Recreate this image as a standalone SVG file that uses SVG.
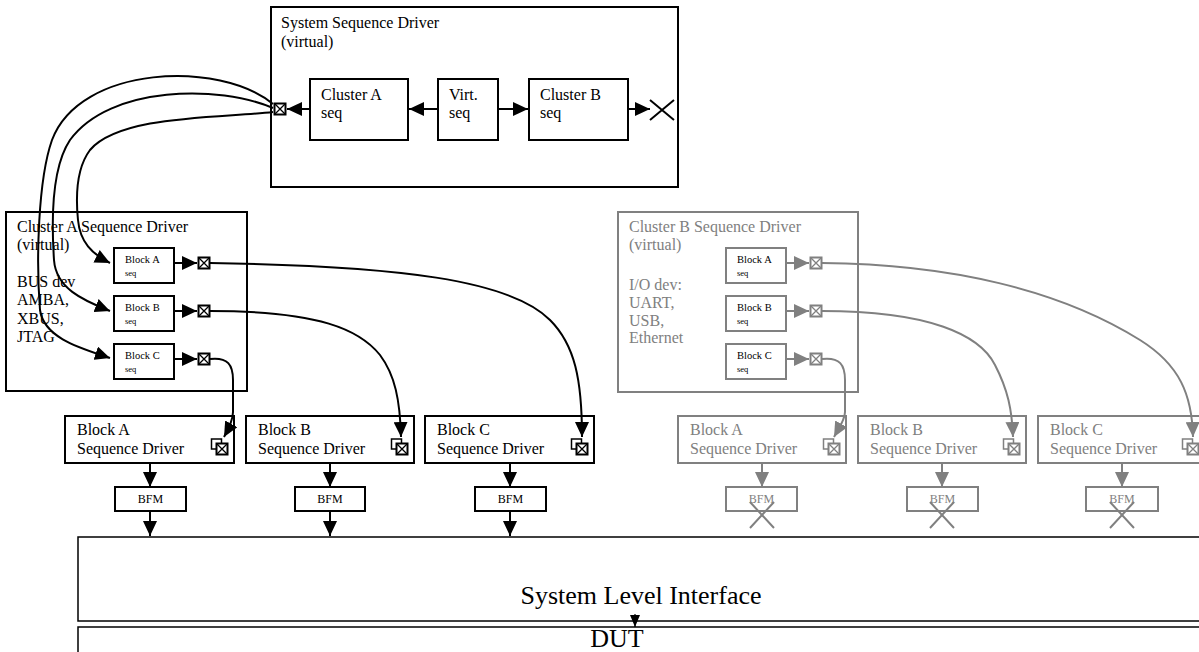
<svg xmlns="http://www.w3.org/2000/svg" width="1199" height="652" viewBox="0 0 1199 652">
  <style>
    .box { fill: none; stroke: #000; stroke-width: 2; }
    .gbox { fill: none; stroke: #808080; stroke-width: 2; }
    .wire { fill: none; stroke: #000; stroke-width: 2; }
    .gwire { fill: none; stroke: #808080; stroke-width: 2; }
    text { font-family: "Liberation Serif", "Times New Roman", serif; fill: #000; }
    .g text { fill: #808080; }
    .g text.dark { fill: #000; }
    .t16 { font-size: 16px; }
    .t12 { font-size: 12px; }
    .blk { font-size: 10.5px; }
    .seq { font-size: 8.5px; }
    .big { font-size: 26px; }
    .port { fill: #fff; stroke: #000; }
    .gport { fill: #fff; stroke: #808080; }
  </style>
  <defs>
    <marker id="ah" viewBox="0 0 15 14" refX="15" refY="7" markerWidth="15" markerHeight="14" markerUnits="userSpaceOnUse" orient="auto">
      <path d="M0,0 L15,7 L0,14 z" fill="#000"/>
    </marker>
    <marker id="ahg" viewBox="0 0 15 14" refX="15" refY="7" markerWidth="15" markerHeight="14" markerUnits="userSpaceOnUse" orient="auto">
      <path d="M0,0 L15,7 L0,14 z" fill="#808080"/>
    </marker>
    <marker id="ahs" viewBox="0 0 12 10" refX="12" refY="5" markerWidth="12" markerHeight="10" markerUnits="userSpaceOnUse" orient="auto">
      <path d="M0,0 L12,5 L0,10 z" fill="#000"/>
    </marker>
    <!-- boxed-X port -->
    <g id="px">
      <rect x="-5.5" y="-5.5" width="11" height="11" stroke-width="2"/>
      <path d="M-5.5,-5.5 L5.5,5.5 M5.5,-5.5 L-5.5,5.5" stroke-width="1.3" fill="none"/>
    </g>
    <!-- stacked port used on the block drivers -->
    <g id="px2">
      <rect x="-10.5" y="-10" width="10" height="10" stroke-width="1.5"/>
      <use href="#px"/>
    </g>
  </defs>

  <!-- System Sequence Driver -->
  <g id="system-driver">
    <rect class="box" x="271" y="7" width="407" height="180"/>
    <text class="t16" x="281" y="28">System Sequence Driver</text>
    <text class="t16" x="281" y="47">(virtual)</text>
    <use class="port" href="#px" x="280" y="109"/>
    <path class="wire" d="M650,100 L674,120 M650,120 L674,100"/>
  </g>
  <g id="cluster-a-seq">
    <rect class="box" x="310" y="79" width="98" height="61"/>
    <text class="t16" x="321" y="100">Cluster A</text>
    <text class="t16" x="321" y="118">seq</text>
  </g>
  <g id="virt-seq">
    <rect class="box" x="438" y="79" width="60" height="61"/>
    <text class="t16" x="449" y="100">Virt.</text>
    <text class="t16" x="449" y="118">seq</text>
  </g>
  <g id="cluster-b-seq">
    <rect class="box" x="529" y="79" width="99" height="61"/>
    <text class="t16" x="540" y="100">Cluster B</text>
    <text class="t16" x="540" y="118">seq</text>
  </g>

  <!-- Cluster A Sequence Driver -->
  <g id="cluster-a-driver">
    <rect class="box" x="6" y="212" width="241" height="179"/>
    <text class="t16" x="17" y="232">Cluster A Sequence Driver</text>
    <text class="t16" x="17" y="250">(virtual)</text>
    <text class="t16" x="17" y="287">BUS dev</text>
    <text class="t16" x="17" y="305">AMBA,</text>
    <text class="t16" x="17" y="324">XBUS,</text>
    <text class="t16" x="17" y="342">JTAG</text>
  </g>
  <g id="ca-block-a-seq">
    <rect class="box" x="114" y="248" width="60" height="35"/>
    <text class="blk" x="125" y="263">Block A</text>
    <text class="seq" x="125" y="276">seq</text>
    <use class="port" href="#px" x="204" y="263"/>
  </g>
  <g id="ca-block-b-seq">
    <rect class="box" x="114" y="296" width="60" height="35"/>
    <text class="blk" x="125" y="311">Block B</text>
    <text class="seq" x="125" y="324">seq</text>
    <use class="port" href="#px" x="204" y="311"/>
  </g>
  <g id="ca-block-c-seq">
    <rect class="box" x="114" y="344" width="60" height="35"/>
    <text class="blk" x="125" y="359">Block C</text>
    <text class="seq" x="125" y="372">seq</text>
    <use class="port" href="#px" x="204" y="359"/>
  </g>

  <!-- Cluster B Sequence Driver (inactive, grey) -->
  <g id="cluster-b-driver" class="g">
    <rect class="gbox" x="618" y="212" width="240" height="180"/>
    <text class="t16" x="629" y="232">Cluster B Sequence Driver</text>
    <text class="t16" x="629" y="250">(virtual)</text>
    <text class="t16" x="629" y="290">I/O dev:</text>
    <text class="t16" x="629" y="308">UART,</text>
    <text class="t16" x="629" y="326">USB,</text>
    <text class="t16" x="629" y="343">Ethernet</text>
  </g>
  <g id="cb-block-a-seq" class="g">
    <rect class="gbox" x="726" y="248" width="60" height="35"/>
    <text class="blk dark" x="737" y="263">Block A</text>
    <text class="seq dark" x="737" y="276">seq</text>
    <use class="gport" href="#px" x="816" y="263"/>
  </g>
  <g id="cb-block-b-seq" class="g">
    <rect class="gbox" x="726" y="296" width="60" height="35"/>
    <text class="blk dark" x="737" y="311">Block B</text>
    <text class="seq dark" x="737" y="324">seq</text>
    <use class="gport" href="#px" x="816" y="311"/>
  </g>
  <g id="cb-block-c-seq" class="g">
    <rect class="gbox" x="726" y="344" width="60" height="35"/>
    <text class="blk dark" x="737" y="359">Block C</text>
    <text class="seq dark" x="737" y="372">seq</text>
    <use class="gport" href="#px" x="816" y="359"/>
  </g>

  <!-- Block sequence drivers -->
  <g id="block-a-driver">
    <rect class="box" x="65" y="416" width="169" height="47"/>
    <text class="t16" x="77" y="435">Block A</text>
    <text class="t16" x="77" y="454">Sequence Driver</text>
    <use class="port" href="#px2" x="222" y="449"/>
  </g>
  <g id="block-b-driver">
    <rect class="box" x="246" y="416" width="168" height="47"/>
    <text class="t16" x="258" y="435">Block B</text>
    <text class="t16" x="258" y="454">Sequence Driver</text>
    <use class="port" href="#px2" x="402" y="449"/>
  </g>
  <g id="block-c-driver">
    <rect class="box" x="425" y="416" width="169" height="47"/>
    <text class="t16" x="437" y="435">Block C</text>
    <text class="t16" x="437" y="454">Sequence Driver</text>
    <use class="port" href="#px2" x="582" y="449"/>
  </g>
  <g id="gblock-a-driver" class="g">
    <rect class="gbox" x="678" y="416" width="168" height="47"/>
    <text class="t16" x="690" y="435">Block A</text>
    <text class="t16" x="690" y="454">Sequence Driver</text>
    <use class="gport" href="#px2" x="834" y="449"/>
  </g>
  <g id="gblock-b-driver" class="g">
    <rect class="gbox" x="858" y="416" width="168" height="47"/>
    <text class="t16" x="870" y="435">Block B</text>
    <text class="t16" x="870" y="454">Sequence Driver</text>
    <use class="gport" href="#px2" x="1014" y="449"/>
  </g>
  <g id="gblock-c-driver" class="g">
    <rect class="gbox" x="1038" y="416" width="168" height="47"/>
    <text class="t16" x="1050" y="435">Block C</text>
    <text class="t16" x="1050" y="454">Sequence Driver</text>
    <use class="gport" href="#px2" x="1193" y="449"/>
  </g>

  <!-- BFMs -->
  <g id="bfm-a">
    <rect class="box" x="115" y="487" width="71" height="24"/>
    <text class="t12" x="150.5" y="503" text-anchor="middle">BFM</text>
  </g>
  <g id="bfm-b">
    <rect class="box" x="295" y="487" width="70" height="24"/>
    <text class="t12" x="330" y="503" text-anchor="middle">BFM</text>
  </g>
  <g id="bfm-c">
    <rect class="box" x="475" y="487" width="71" height="24"/>
    <text class="t12" x="510.5" y="503" text-anchor="middle">BFM</text>
  </g>
  <g id="gbfm-a" class="g">
    <rect class="gbox" x="726" y="487" width="71" height="24"/>
    <text class="t12" x="761.5" y="503" text-anchor="middle">BFM</text>
    <path class="gwire" d="M750,502 L774,528 M774,502 L750,528"/>
  </g>
  <g id="gbfm-b" class="g">
    <rect class="gbox" x="907" y="487" width="71" height="24"/>
    <text class="t12" x="942.5" y="503" text-anchor="middle">BFM</text>
    <path class="gwire" d="M930,502 L954,528 M954,502 L930,528"/>
  </g>
  <g id="gbfm-c" class="g">
    <rect class="gbox" x="1086" y="487" width="72" height="24"/>
    <text class="t12" x="1122" y="503" text-anchor="middle">BFM</text>
    <path class="gwire" d="M1110,502 L1134,528 M1134,502 L1110,528"/>
  </g>

  <!-- System level interface and DUT -->
  <g id="system-level-interface">
    <rect x="78" y="537" width="1130" height="84" fill="none" stroke="#000" stroke-width="1.5"/>
    <text class="big" x="641" y="604" text-anchor="middle">System Level Interface</text>
  </g>
  <g id="dut">
    <rect x="78" y="627" width="1130" height="40" fill="none" stroke="#000" stroke-width="1.5"/>
    <text class="big" x="617" y="647" text-anchor="middle">DUT</text>
  </g>

  <!-- Connectors -->
  <g id="connectors">
    <!-- inside the system driver -->
    <path class="wire" d="M310,109 L287,109" marker-end="url(#ah)"/>
    <path class="wire" d="M438,109 L409,109" marker-end="url(#ah)"/>
    <path class="wire" d="M498,109 L528,109" marker-end="url(#ah)"/>
    <path class="wire" d="M628,109 L650,109" marker-end="url(#ah)"/>

    <!-- system port to cluster A block sequences -->
    <path class="wire" d="M273,104 C220,60 80,65 52,140 C38,180 36,260 40,310 C44,338 80,348 110,358" marker-end="url(#ah)"/>
    <path class="wire" d="M273,108 C220,85 110,85 70,140 C50,170 52,230 54,260 C56,288 82,300 110,311" marker-end="url(#ah)"/>
    <path class="wire" d="M273,112 C220,118 120,115 90,150 C75,170 76,200 78,220 C80,242 92,254 110,263" marker-end="url(#ah)"/>

    <!-- cluster A block sequences to their ports -->
    <path class="wire" d="M174,263 L197,263" marker-end="url(#ah)"/>
    <path class="wire" d="M174,311 L197,311" marker-end="url(#ah)"/>
    <path class="wire" d="M174,359 L197,359" marker-end="url(#ah)"/>

    <!-- cluster A ports to block drivers -->
    <path class="wire" d="M210,263 C400,266 510,280 550,320 C575,345 582,380 582,437" marker-end="url(#ah)"/>
    <path class="wire" d="M210,311 C320,311 360,330 380,355 C395,375 400,400 401,437" marker-end="url(#ah)"/>
    <path class="wire" d="M210,359 C228,357 233,365 233,380 L233,412 C233,420 229,428 224,437" marker-end="url(#ah)"/>

    <!-- cluster B (inactive) -->
    <path class="gwire" d="M786,263 L809,263" marker-end="url(#ahg)"/>
    <path class="gwire" d="M786,311 L809,311" marker-end="url(#ahg)"/>
    <path class="gwire" d="M786,359 L809,359" marker-end="url(#ahg)"/>
    <path class="gwire" d="M822,263 C950,264 1060,290 1140,340 C1180,365 1192,395 1193,437" marker-end="url(#ahg)"/>
    <path class="gwire" d="M822,311 C930,311 980,335 995,365 C1008,390 1012,410 1013,437" marker-end="url(#ahg)"/>
    <path class="gwire" d="M822,359 C840,357 845,365 845,380 L845,412 C845,420 839,428 834,437" marker-end="url(#ahg)"/>

    <!-- block drivers to BFMs -->
    <path class="wire" d="M150,463 L150,487" marker-end="url(#ah)"/>
    <path class="wire" d="M330,463 L330,487" marker-end="url(#ah)"/>
    <path class="wire" d="M510,463 L510,487" marker-end="url(#ah)"/>
    <path class="gwire" d="M762,463 L762,487" marker-end="url(#ahg)"/>
    <path class="gwire" d="M942,463 L942,487" marker-end="url(#ahg)"/>
    <path class="gwire" d="M1122,463 L1122,487" marker-end="url(#ahg)"/>

    <!-- BFMs to system level interface -->
    <path class="wire" d="M150,511 L150,536" marker-end="url(#ah)"/>
    <path class="wire" d="M330,511 L330,536" marker-end="url(#ah)"/>
    <path class="wire" d="M510,511 L510,536" marker-end="url(#ah)"/>

    <!-- system level interface to DUT -->
    <path d="M635,614 L635,627" fill="none" stroke="#000" stroke-width="1.2" marker-end="url(#ahs)"/>
  </g>
</svg>
